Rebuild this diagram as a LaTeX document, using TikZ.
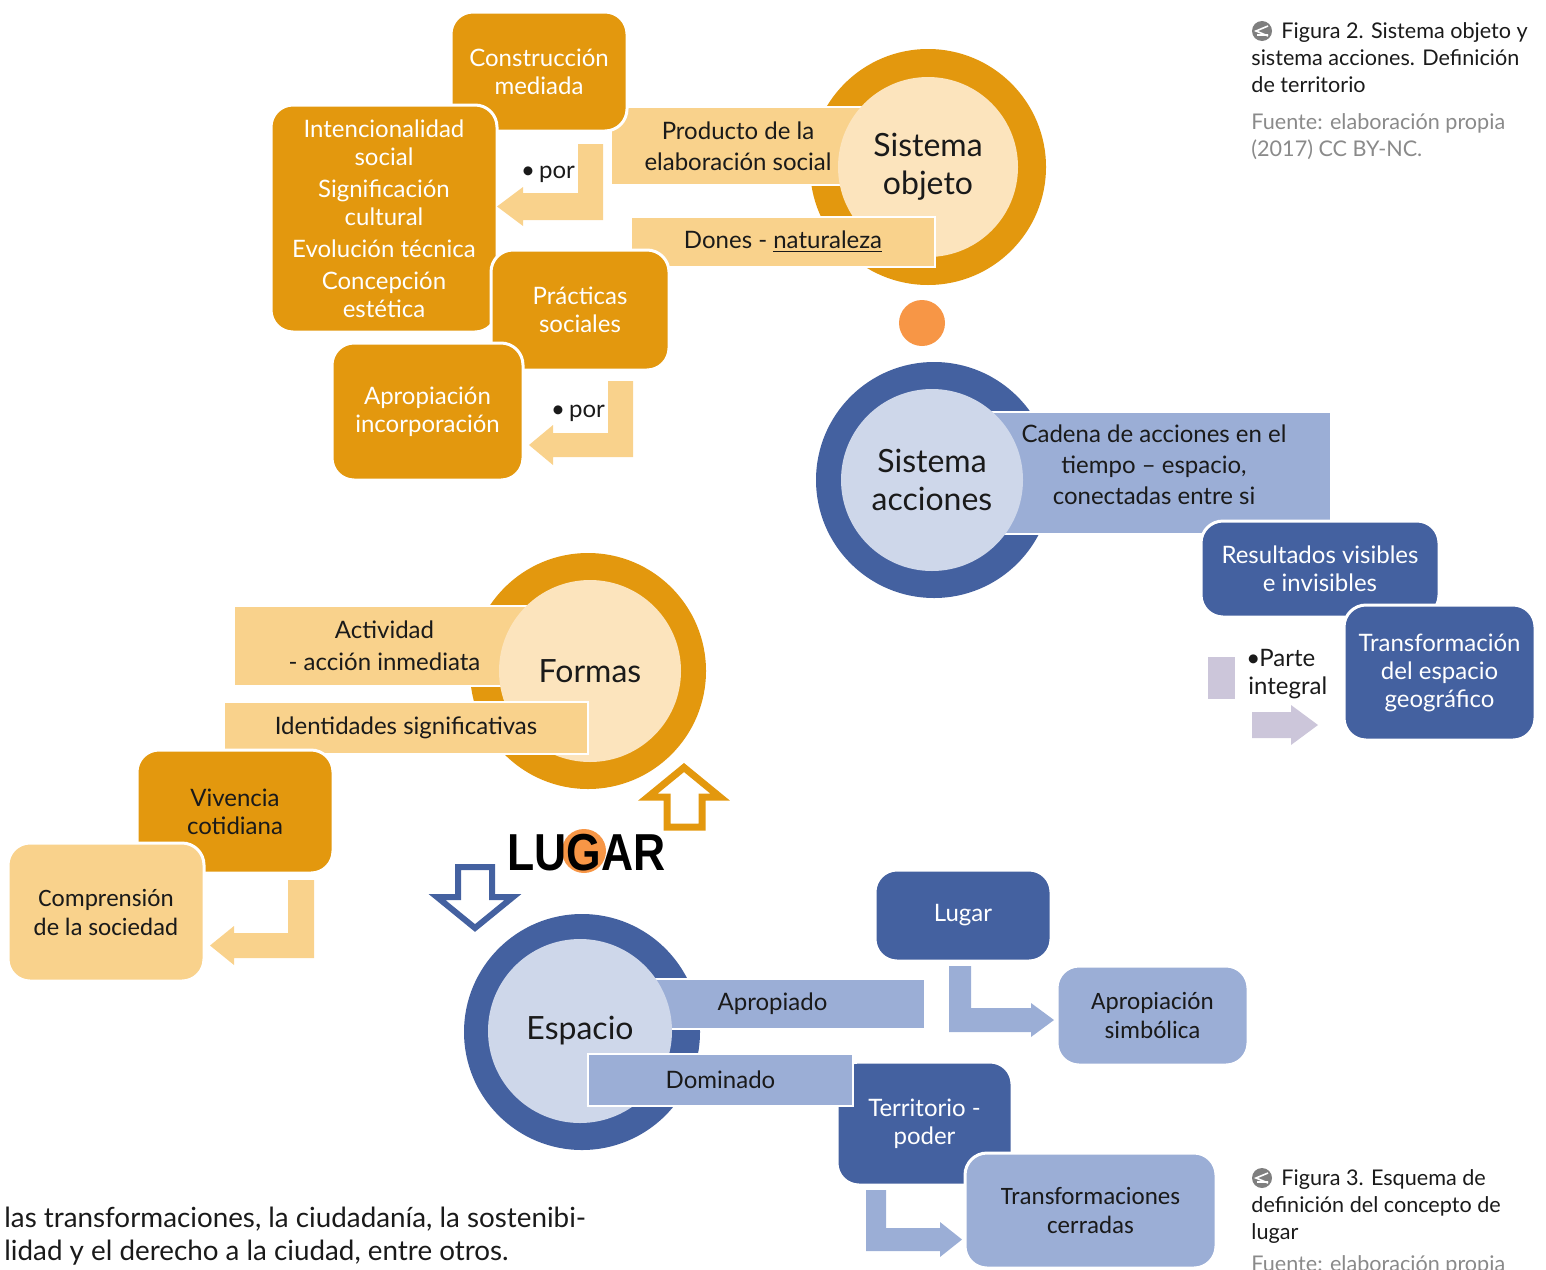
\documentclass[tikz,border=0pt]{standalone}
\usepackage{fontspec}
\setmainfont{Lato}
\newfontfamily\calfont{Carlito}
\newfontfamily\lugfont{Liberation Sans}
\definecolor{dor}{HTML}{E3980E}
\definecolor{lor}{HTML}{F9D28C}
\definecolor{cor}{HTML}{FCE4BD}
\definecolor{dotor}{HTML}{F79646}
\definecolor{dbl}{HTML}{4461A0}
\definecolor{lbl}{HTML}{9BAED6}
\definecolor{cbl}{HTML}{CED7EA}
\definecolor{lav}{HTML}{CCC6DA}
\definecolor{capgrey}{HTML}{7F7F7F}
\definecolor{srcgrey}{HTML}{8A8A8A}
\definecolor{txt}{HTML}{1A1A1A}
\begin{document}
\begin{tikzpicture}[x=0.5pt,y=-0.5pt,
 rb/.style={rectangle, rounded corners=11pt, draw=white, line width=1.5pt, align=center, inner sep=0pt, font=\fontsize{12}{14}\selectfont},
 sb/.style={rectangle, draw=white, line width=1pt, align=center, inner sep=0pt, font=\fontsize{12}{14}\selectfont, text=txt},
 disk/.style={circle, inner sep=0pt},
 big/.style={font=\fontsize{16}{19}\selectfont, align=center, text=txt},
 labtext/.style={font=\fontsize{12}{14}\selectfont, align=left, inner sep=0pt, text=txt},
 calf/.style={font=\calfont\fontsize{12.5}{14.5}\selectfont},
 captext/.style={anchor=north west, inner sep=0pt, align=left, font=\fontsize{10.8}{13.5}\selectfont}
]
\useasboundingbox (0,0) rectangle (1546,1269);

% ---------- Figura 2: sistema objeto ----------
\node[disk, fill=dor, minimum size=118pt] (soring) at (928,167) {};
\node[sb, fill=lor, minimum width=127pt, minimum height=39pt, font=\fontsize{12}{15.5}\selectfont] (prod) at (738,146) {Producto de la\\elaboración social};
\node[disk, fill=cor, minimum size=90pt, big] (so) at (928,167) {Sistema\\objeto};
\node[sb, fill=lor, minimum width=152pt, minimum height=25pt] (dones) at (783,242) {Dones - \underline{naturaleza}};

\node[rb, fill=dor, text=white, minimum width=88pt, minimum height=59.5pt] (cm) at (539,71.5) {Construcción\\mediada};
\node[rb, fill=dor, text=white, minimum width=113pt, minimum height=113.5pt] (intc) at (384,218.5) {Intencionalidad\\social\\[2pt]Significación\\cultural\\[2pt]Evolución técnica\\[2pt]Concepción\\estética};
\node[rb, fill=dor, text=white, minimum width=89pt, minimum height=60pt] (prac) at (580,310) {Prácticas\\sociales};
\node[rb, fill=dor, text=white, minimum width=95.5pt, minimum height=68.5pt] (apinc) at (427.5,411.5) {Apropiación\\incorporación};

\fill[lor] (578,144) -- (603,144) -- (603,220) -- (523,220) -- (523,226) -- (497,206.5) -- (523,187) -- (523,193) -- (578,193) -- cycle;
\fill[lor] (608,381) -- (633,381) -- (633,457) -- (553,457) -- (553,465) -- (529,445) -- (553,425) -- (553,433) -- (608,433) -- cycle;
\node[labtext] (por1) at (548,174) {\textbullet\,por};
\node[labtext] (por2) at (578,413) {\textbullet\,por};

\node[disk, fill=dotor, minimum size=23pt] (dot) at (922,323) {};

% ---------- Figura 2: sistema acciones ----------
\node[disk, fill=dbl, minimum size=118pt] (saring) at (934,480) {};
\node[sb, fill=lbl, minimum width=170.5pt, minimum height=61pt] (cad) at (1160.5,473) {};
\node[disk, fill=cbl, minimum size=91pt, big] (sa) at (932,480) {Sistema\\acciones};
\node[labtext, align=center, font=\fontsize{12}{15.5}\selectfont] (cadt) at (1154,465) {Cadena de acciones en el\\tiempo – espacio,\\conectadas entre si};
\node[rb, fill=dbl, text=white, minimum width=119pt, minimum height=48pt] (res) at (1320,569) {Resultados visibles\\e invisibles};
\node[rb, fill=dbl, text=white, minimum width=95.5pt, minimum height=67.5pt] (tr) at (1439.5,672.5) {Transformación\\del espacio\\geográfico};

\fill[lav] (1208,657) rectangle (1235,699);
\fill[lav] (1252,712) -- (1291,712) -- (1291,705) -- (1318,725) -- (1291,745) -- (1291,738) -- (1252,738) -- cycle;
\node[labtext, anchor=north west] (parte) at (1246,649) {\textbullet\kern-0.5pt Parte\\\kern1pt integral};

% ---------- Figura 3: formas ----------
\node[disk, fill=dor, minimum size=118pt] (foring) at (588,671) {};
\node[sb, fill=lor, minimum width=150.5pt, minimum height=40pt, font=\fontsize{12}{16}\selectfont] (act) at (384.5,646) {Actividad\\- acción inmediata};
\node[disk, fill=cor, minimum size=91pt, big] (fo) at (590,671) {Formas};
\node[sb, fill=lor, minimum width=182pt, minimum height=26pt] (ident) at (406,728) {Identidades significativas};
\node[rb, fill=dor, text=txt, minimum width=98pt, minimum height=61.5pt] (viv) at (235,811.5) {Vivencia\\cotidiana};
\node[rb, fill=lor, text=txt, minimum width=98pt, minimum height=69pt, calf] (comp) at (106,912) {Comprensión\\de la sociedad};
\fill[lor] (288,880) -- (314,880) -- (314,958) -- (234,958) -- (234,965) -- (210,945.5) -- (234,926) -- (234,933) -- (288,933) -- cycle;

% hollow arrows and LUGAR
\draw[dor, line width=3.5pt] (667,827) -- (702,827) -- (702,797) -- (720,797) -- (684,767.5) -- (648,797) -- (667,797) -- cycle;
\node[disk, fill=dotor, minimum size=22pt] (gdot) at (584,851) {};
\node[font=\lugfont\bfseries\fontsize{26}{26}\selectfont, xscale=0.855, inner sep=0pt, text=black] (lugar) at (586.5,853) {LUGAR};
\draw[dbl, line width=3pt] (458,867) -- (492,867) -- (492,897) -- (513,897) -- (475,928) -- (437,897) -- (458,897) -- cycle;

% ---------- Figura 3: espacio ----------
\node[rb, fill=dbl, text=white, minimum width=87.5pt, minimum height=61.5pt] (terr) at (924.5,1123.5) {Territorio -\\poder};
\node[disk, fill=dbl, minimum size=118pt] (esring) at (582,1032) {};
\node[sb, fill=lbl, minimum width=152.5pt, minimum height=25pt] (apd) at (772.5,1004) {Apropiado};
\node[disk, fill=cbl, minimum size=92pt, big] (es) at (580,1031) {Espacio};
\node[sb, fill=lbl, minimum width=132.5pt, minimum height=26pt] (dom) at (720.5,1080) {Dominado};
\node[rb, fill=lbl, text=txt, minimum width=125.5pt, minimum height=57.5pt, calf] (tc) at (1090.5,1210.5) {Transformaciones\\cerradas};
\node[rb, fill=dbl, text=white, minimum width=88pt, minimum height=45.5pt] (lug) at (963,915.5) {Lugar};
\node[rb, fill=lbl, text=txt, minimum width=95.5pt, minimum height=49.5pt, calf] (aps) at (1152.5,1015.5) {Apropiación\\simbólica};
\fill[lbl] (949,966) -- (971,966) -- (971,1008) -- (1031,1008) -- (1031,1003) -- (1054,1020) -- (1031,1037) -- (1031,1032) -- (949,1032) -- cycle;
\fill[lbl] (866,1190) -- (886,1190) -- (886,1228) -- (940,1228) -- (940,1222) -- (962,1239.5) -- (940,1257) -- (940,1251) -- (866,1251) -- cycle;

% ---------- captions ----------
\node[disk, fill=capgrey, minimum size=10pt] (ic2) at (1262,31) {};
\draw[white, line width=0.8pt] (1268,26) -- (1256,31) -- (1268,36) (1257,35) -- (1268,35);
\node[captext, text=txt] (cap2) at (1251,22) {\hspace*{15pt}Figura 2. Sistema objeto y\\sistema acciones. Definición\\de territorio};
\node[captext, text=srcgrey] (src2) at (1251,113) {Fuente: elaboración propia\\(2017) CC BY-NC.};

\node[disk, fill=capgrey, minimum size=10pt] (ic3) at (1262,1178) {};
\draw[white, line width=0.8pt] (1268,1173) -- (1256,1178) -- (1268,1183) (1257,1182) -- (1268,1182);
\node[captext, text=txt] (cap3) at (1251,1169) {\hspace*{15pt}Figura 3. Esquema de\\definición del concepto de\\lugar};
\node[captext, text=srcgrey] (src3) at (1251,1255) {Fuente: elaboración propia};

\node[anchor=north west, inner sep=0pt, align=left, font=\fontsize{13.9}{16.5}\selectfont, text=txt] (body) at (4,1207) {las transformaciones, la ciudadanía, la sostenibi-\\lidad y el derecho a la ciudad, entre otros.};
\end{tikzpicture}
\end{document}
